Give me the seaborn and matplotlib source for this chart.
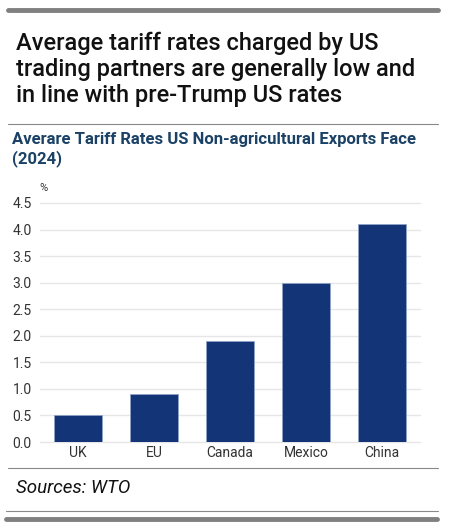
import matplotlib
matplotlib.use("Agg")
import matplotlib.pyplot as plt
import seaborn as sns
import pandas as pd
from matplotlib.lines import Line2D

# ------------------------------------------------------------
# data
# ------------------------------------------------------------
partners = ["UK", "EU", "Canada", "Mexico", "China"]
tariff_rates = [0.5, 0.9, 1.9, 3.0, 4.1]
y_ticks = [0.0, 0.5, 1.0, 1.5, 2.0, 2.5, 3.0, 3.5, 4.0, 4.5]

df = pd.DataFrame({"partner": partners, "rate": tariff_rates})

sns.set_style("white")
plt.rcParams["font.family"] = ["Roboto", "DejaVu Sans"]

fig = plt.figure(figsize=(4.5, 5.29), dpi=100)
ax = fig.add_axes([40 / 450, 87 / 529, 380 / 450, 239 / 529])

sns.barplot(data=df, x="partner", y="rate", color="#133577",
            width=0.63, saturation=1, edgecolor="#8ea3c8", linewidth=0.6, ax=ax)

ax.set_ylim(0, 4.5)
ax.set_xlim(-0.5, 4.5)
ax.set_yticks(y_ticks)
ax.set_yticklabels([f"{v:.1f}" for v in y_ticks])
ax.yaxis.grid(True, color="#e6e6e6", linewidth=1.0)
ax.set_axisbelow(True)
for g in ax.get_ygridlines():
    g.set_clip_on(False)
for s in ax.spines.values():
    s.set_visible(False)
ax.set_xlabel("")
ax.set_ylabel("")

# x ticks between categories
ax.set_xticks(range(len(partners)))
ax.set_xticklabels(partners)
ax.tick_params(axis="x", length=0, labelsize=10, colors="#333333", pad=3)
ax.set_xticks([i - 0.5 for i in range(len(partners))], minor=True)
ax.tick_params(axis="x", which="minor", length=4, width=1, color="#333333", direction="in")
ax.tick_params(axis="y", length=3, width=1, color="#555555", labelsize=10,
               labelcolor="#333333", pad=3)

ax.text(0.008, 1.04, "%", transform=ax.transAxes, fontsize=8, color="#333333",
        ha="center", va="bottom")

# ------------------------------------------------------------
# titles, rules and source
# ------------------------------------------------------------
def px(y):
    return 1 - y / 529

fig.add_artist(Line2D([8 / 450, 438 / 450], [px(9.5), px(9.5)], color="#808080", lw=3.5))
fig.text(16 / 450, px(32), "Average tariff rates charged by US\ntrading partners are generally low and\nin line with pre-Trump US rates",
         fontsize=17, fontweight="medium", color="#111111", va="top", ha="left", linespacing=1.17)
fig.add_artist(Line2D([8 / 450, 438 / 450], [px(124), px(124)], color="#888888", lw=0.8))
fig.text(12 / 450, px(132), "Averare Tariff Rates US Non-agricultural Exports Face\n(2024)",
         fontsize=12, fontweight="bold", color="#1b4266", va="top", ha="left", linespacing=1.2)
fig.add_artist(Line2D([8 / 450, 438 / 450], [px(468), px(468)], color="#888888", lw=0.8))
fig.text(16 / 450, px(488), "Sources: WTO", fontsize=13.5, style="italic", color="#111111",
         va="center", ha="left")
fig.add_artist(Line2D([6 / 450, 438 / 450], [px(511), px(511)], color="#888888", lw=0.8))
fig.add_artist(Line2D([6 / 450, 437 / 450], [px(519), px(519)], color="#808080", lw=3.5))

fig.savefig("out.png", dpi=100)
